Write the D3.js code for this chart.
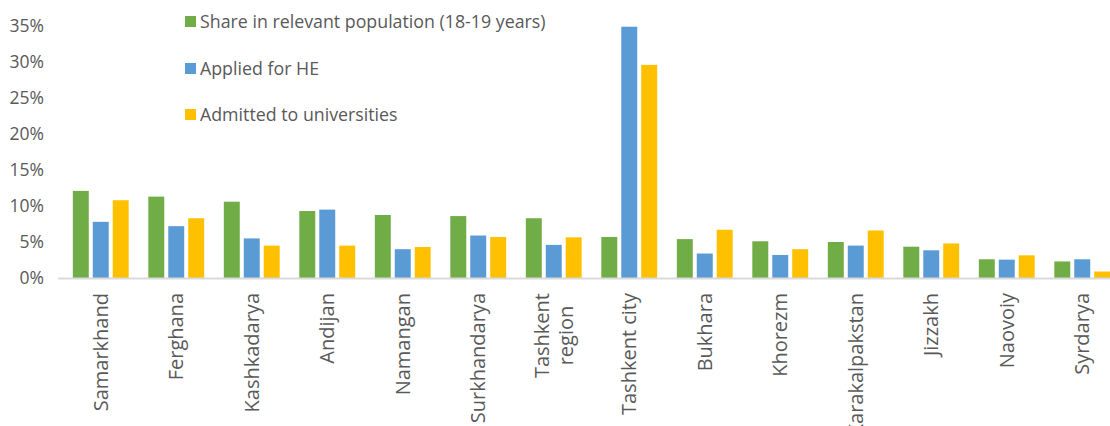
<!DOCTYPE html>
<html>
<head>
<meta charset="utf-8">
<script src="https://cdn.jsdelivr.net/npm/d3@7"></script>
<style>
  html, body { margin: 0; padding: 0; background: #fff; }
  svg { display: block; }
  text { font-family: "Open Sans", sans-serif; fill: #595959; }
</style>
</head>
<body>
<svg id="chart" width="1110" height="426"></svg>
<script>
const categories = ["Samarkhand","Ferghana","Kashkadarya","Andijan","Namangan","Surkhandarya","Tashkent region","Tashkent city","Bukhara","Khorezm","Karakalpakstan","Jizzakh","Naovoiy","Syrdarya"];
const seriesNames = ["Share in relevant population (18-19 years)","Applied for HE","Admitted to universities"];
const shareValues    = [12.1, 11.3, 10.6, 9.3, 8.75, 8.6, 8.3, 5.7, 5.4, 5.1, 5.0, 4.35, 2.6, 2.3];
const appliedValues  = [7.8, 7.2, 5.5, 9.5, 4.0, 5.9, 4.6, 34.9, 3.4, 3.2, 4.5, 3.85, 2.55, 2.6];
const admittedValues = [10.8, 8.3, 4.5, 4.5, 4.3, 5.7, 5.65, 29.6, 6.7, 4.0, 6.6, 4.8, 3.15, 0.9];
const yTicks = [0, 5, 10, 15, 20, 25, 30, 35];
const colors = ["#70AD47", "#5B9BD5", "#FFC000"];

const seriesValues = [shareValues, appliedValues, admittedValues];
const svg = d3.select("#chart");

const x0 = d3.scaleBand().domain(categories).range([63, 1120]).paddingInner(0.26).paddingOuter(0.13);
const x1 = d3.scaleBand().domain(d3.range(3)).range([0, x0.bandwidth()]).paddingInner(0.2);
const y = d3.scaleLinear().domain([0, 35]).range([278, 26]);

// y axis
const yAxis = svg.append("g").attr("transform", "translate(44,0)")
  .call(d3.axisLeft(y).tickValues(yTicks).tickSize(0).tickPadding(0).tickFormat(d => d + "%"));
yAxis.select(".domain").remove();
yAxis.selectAll("text").style("font-size", "17.5px").style("font-family", "'Open Sans', sans-serif").attr("fill", "#595959");

// bars
const groups = svg.append("g").selectAll("g").data(categories).join("g")
  .attr("transform", d => `translate(${x0(d)},0)`);
groups.selectAll("rect")
  .data((d, i) => seriesValues.map((vals, s) => ({ s, v: vals[i] })))
  .join("rect")
  .attr("x", d => x1(d.s))
  .attr("width", x1.bandwidth())
  .attr("y", d => y(d.v))
  .attr("height", d => y(0) - y(d.v))
  .attr("fill", d => colors[d.s]);

// x axis line
svg.append("line").attr("x1", 58).attr("x2", 1110).attr("y1", y(0) + 0.5).attr("y2", y(0) + 0.5)
  .attr("stroke", "#d9d9d9").attr("stroke-width", 2);

// x labels, rotated
const labelTop = 293;
categories.forEach(c => {
  const lines = c === "Tashkent region" ? ["Tashkent", "region"] : [c];
  const cx = x0(c) + x0.bandwidth() / 2;
  const t = svg.append("text").style("font-size", "20px").attr("text-anchor", "middle");
  const lh = 24;
  lines.forEach((ln, i) => {
    t.append("tspan").attr("x", 0).attr("y", (i - (lines.length - 1) / 2) * lh).attr("dy", "0.35em").text(ln);
  });
  let maxLen = 0;
  t.selectAll("tspan").each(function () { maxLen = Math.max(maxLen, this.getComputedTextLength()); });
  t.attr("transform", `translate(${cx},${labelTop + maxLen / 2}) rotate(-90)`);
});

// legend
const legendY = [22, 69, 115];
seriesNames.forEach((name, i) => {
  svg.append("rect").attr("x", 185).attr("y", legendY[i] - 6).attr("width", 11).attr("height", 11).attr("fill", colors[i]);
  svg.append("text").attr("x", 200).attr("y", legendY[i]).attr("dy", "0.35em").style("font-size", "17.8px").text(name);
});
</script>
</body>
</html>
